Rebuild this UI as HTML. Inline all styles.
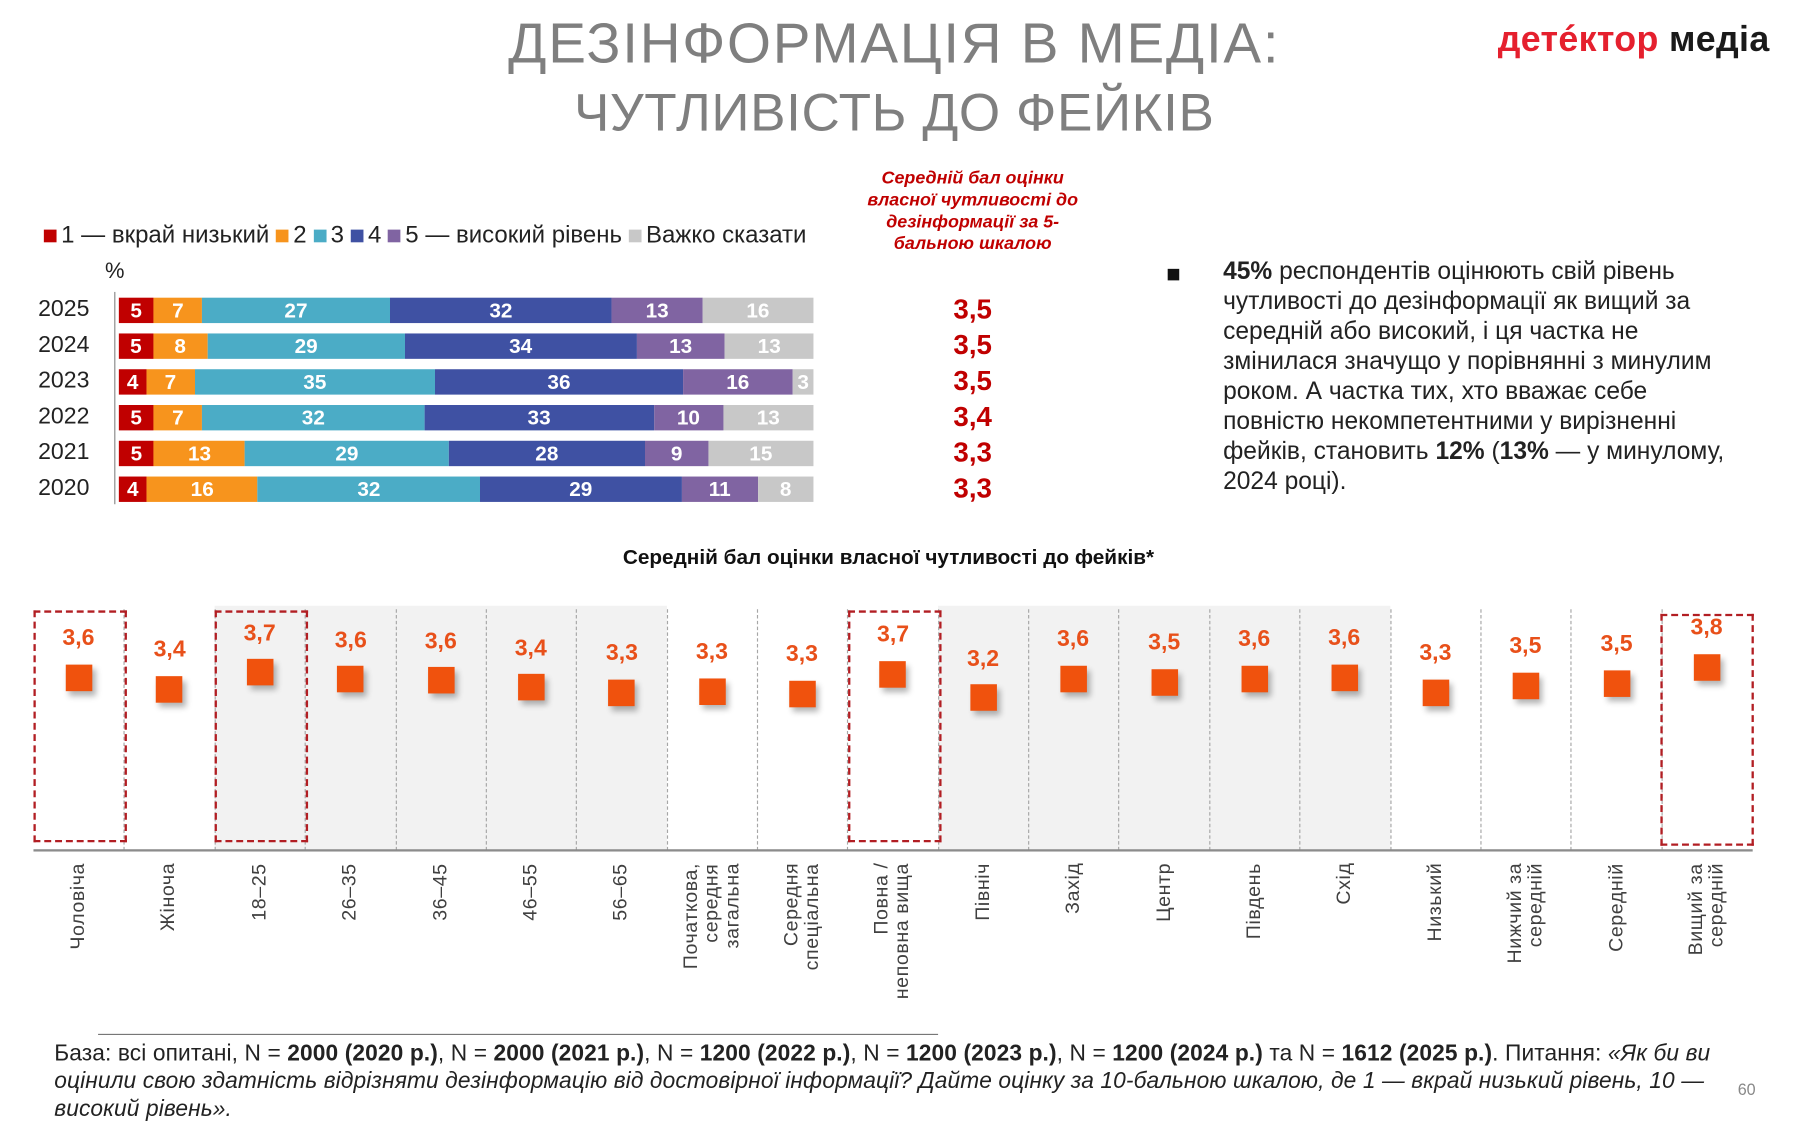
<!DOCTYPE html>
<html><head><meta charset="utf-8">
<style>
html,body{margin:0;padding:0;background:#fff;}
body{width:1800px;height:1125px;overflow:hidden;position:relative;font-family:"Liberation Sans","DejaVu Sans",sans-serif;}
#w{position:absolute;left:0;top:0;width:1560px;height:975px;transform:scale(1.153846);transform-origin:0 0;}
.a{position:absolute;white-space:nowrap;}
.t{color:#7f7f7f;font-size:49px;font-weight:300;left:0;width:1550px;text-align:center;letter-spacing:1.5px;}
.row{position:absolute;left:103px;width:602px;height:22px;display:flex;}
.row div{color:#fff;font-weight:bold;font-size:18px;text-align:center;line-height:22px;overflow:visible;}
.yr{position:absolute;left:33px;font-size:20px;color:#222;}
.sc{position:absolute;left:800px;width:86px;text-align:center;color:#c00000;font-weight:bold;font-size:24px;}
.lg{display:inline-block;width:11px;height:11px;margin-right:4px;vertical-align:0px;}
.col{position:absolute;top:525px;height:212px;width:78.4px;}
.sep{position:absolute;top:528px;height:209px;border-left:1px dashed #a6a6a6;}
.box{position:absolute;border:2px dashed #b21e23;}
.mk{position:absolute;width:23px;height:23px;background:#f0520d;box-shadow:3px 4px 5px rgba(0,0,0,0.3);}
.vl{position:absolute;color:#e8501a;font-weight:bold;font-size:20px;width:60px;text-align:center;}
.cl{position:absolute;top:748px;height:140px;writing-mode:vertical-rl;transform:rotate(180deg);text-align:end;font-size:17px;color:#404040;line-height:18px;letter-spacing:0.5px;}
.p{font-size:21.3px;color:#222;left:1060px;}
.f{font-size:19.7px;color:#222;left:47px;letter-spacing:0.1px;}
</style></head><body><div id="w">
<div class="a t" style="top:10px;">ДЕЗІНФОРМАЦІЯ В МЕДІА:</div>
<div class="a t" style="top:70px;font-size:46px;letter-spacing:0.5px;">ЧУТЛИВІСТЬ ДО ФЕЙКІВ</div>
<div class="a" style="left:1298px;top:16px;font-size:31px;font-weight:bold;letter-spacing:0.3px;"><span style="color:#e5202e">детéктор</span> <span style="color:#1a1a1a">медіа</span></div>

<div class="a" style="left:740px;width:206px;top:145px;text-align:center;color:#c00000;font-style:italic;font-weight:bold;font-size:15.5px;line-height:19px;">Середній бал оцінки<br>власної чутливості до<br>дезінформації за 5-<br>бальною шкалою</div>

<div class="a" style="left:38px;top:192px;font-size:20.8px;color:#222;"><span class="lg" style="background:#c00000"></span>1 — вкрай низький <span class="lg" style="background:#f7941d"></span>2 <span class="lg" style="background:#4bacc6"></span>3 <span class="lg" style="background:#3f51a3"></span>4 <span class="lg" style="background:#8064a2"></span>5 — високий рівень <span class="lg" style="background:#c8c8c8"></span>Важко сказати</div>
<div class="a" style="left:91px;top:225px;font-size:19px;color:#222;">%</div>
<div class="a" style="left:99px;top:253px;height:184px;border-left:1px solid #888;"></div>

<div class="yr" style="top:257px">2025</div>
<div class="row" style="top:258px"><div style="flex:5;background:#c00000">5</div><div style="flex:7;background:#f7941d">7</div><div style="flex:27;background:#4bacc6">27</div><div style="flex:32;background:#3f51a3">32</div><div style="flex:13;background:#8064a2">13</div><div style="flex:16;background:#c8c8c8">16</div></div>
<div class="yr" style="top:288px">2024</div>
<div class="row" style="top:289px"><div style="flex:5;background:#c00000">5</div><div style="flex:8;background:#f7941d">8</div><div style="flex:29;background:#4bacc6">29</div><div style="flex:34;background:#3f51a3">34</div><div style="flex:13;background:#8064a2">13</div><div style="flex:13;background:#c8c8c8">13</div></div>
<div class="yr" style="top:319px">2023</div>
<div class="row" style="top:320px"><div style="flex:4;background:#c00000">4</div><div style="flex:7;background:#f7941d">7</div><div style="flex:35;background:#4bacc6">35</div><div style="flex:36;background:#3f51a3">36</div><div style="flex:16;background:#8064a2">16</div><div style="flex:3;background:#c8c8c8">3</div></div>
<div class="yr" style="top:350px">2022</div>
<div class="row" style="top:351px"><div style="flex:5;background:#c00000">5</div><div style="flex:7;background:#f7941d">7</div><div style="flex:32;background:#4bacc6">32</div><div style="flex:33;background:#3f51a3">33</div><div style="flex:10;background:#8064a2">10</div><div style="flex:13;background:#c8c8c8">13</div></div>
<div class="yr" style="top:381px">2021</div>
<div class="row" style="top:382px"><div style="flex:5;background:#c00000">5</div><div style="flex:13;background:#f7941d">13</div><div style="flex:29;background:#4bacc6">29</div><div style="flex:28;background:#3f51a3">28</div><div style="flex:9;background:#8064a2">9</div><div style="flex:15;background:#c8c8c8">15</div></div>
<div class="yr" style="top:412px">2020</div>
<div class="row" style="top:413px"><div style="flex:4;background:#c00000">4</div><div style="flex:16;background:#f7941d">16</div><div style="flex:32;background:#4bacc6">32</div><div style="flex:29;background:#3f51a3">29</div><div style="flex:11;background:#8064a2">11</div><div style="flex:8;background:#c8c8c8">8</div></div>

<div class="sc" style="top:255px">3,5</div>
<div class="sc" style="top:286px">3,5</div>
<div class="sc" style="top:317px">3,5</div>
<div class="sc" style="top:348px">3,4</div>
<div class="sc" style="top:379px">3,3</div>
<div class="sc" style="top:410px">3,3</div>

<div class="a" style="left:1012px;top:233px;width:10px;height:10px;background:#111;"></div>
<div class="a p" style="top:223px"><b>45%</b> респондентів оцінюють свій рівень</div>
<div class="a p" style="top:249px">чутливості до дезінформації як вищий за</div>
<div class="a p" style="top:275px">середній або високий, і ця частка не</div>
<div class="a p" style="top:301px">змінилася значущо у порівнянні з минулим</div>
<div class="a p" style="top:327px">роком. А частка тих, хто вважає себе</div>
<div class="a p" style="top:353px">повністю некомпетентними у вирізненні</div>
<div class="a p" style="top:379px">фейків, становить <b>12%</b> (<b>13%</b> — у минулому,</div>
<div class="a p" style="top:405px">2024 році).</div>

<div class="a" style="left:0;width:1540px;text-align:center;top:473px;font-size:18px;font-weight:bold;color:#111;">Середній бал оцінки власної чутливості до фейків*</div>

<div class="col" style="left:186px;width:392px;background:#f2f2f2"></div>
<div class="col" style="left:813px;width:392px;background:#f2f2f2"></div>
<div class="sep" style="left:107px"></div><div class="sep" style="left:186px"></div><div class="sep" style="left:264px"></div><div class="sep" style="left:343px"></div><div class="sep" style="left:421px"></div><div class="sep" style="left:499px"></div><div class="sep" style="left:578px"></div><div class="sep" style="left:656px"></div><div class="sep" style="left:734px"></div><div class="sep" style="left:813px"></div><div class="sep" style="left:891px"></div><div class="sep" style="left:969px"></div><div class="sep" style="left:1048px"></div><div class="sep" style="left:1126px"></div><div class="sep" style="left:1205px"></div><div class="sep" style="left:1283px"></div><div class="sep" style="left:1361px"></div><div class="sep" style="left:1440px"></div>
<div class="a" style="left:29px;top:736px;width:1490px;height:2px;background:#8c8c8c;"></div>
<div class="box" style="left:29px;top:529px;width:77px;height:197px"></div>
<div class="box" style="left:186px;top:529px;width:77px;height:197px"></div>
<div class="box" style="left:735px;top:529px;width:77px;height:197px"></div>
<div class="box" style="left:1439px;top:532px;width:77px;height:197px"></div>

<div class="mk" style="left:57px;top:576px"></div><div class="vl" style="left:38px;top:542px">3,6</div>
<div class="mk" style="left:135px;top:586px"></div><div class="vl" style="left:117px;top:552px">3,4</div>
<div class="mk" style="left:214px;top:571px"></div><div class="vl" style="left:195px;top:538px">3,7</div>
<div class="mk" style="left:292px;top:577px"></div><div class="vl" style="left:274px;top:544px">3,6</div>
<div class="mk" style="left:371px;top:578px"></div><div class="vl" style="left:352px;top:545px">3,6</div>
<div class="mk" style="left:449px;top:584px"></div><div class="vl" style="left:430px;top:551px">3,4</div>
<div class="mk" style="left:527px;top:589px"></div><div class="vl" style="left:509px;top:555px">3,3</div>
<div class="mk" style="left:606px;top:588px"></div><div class="vl" style="left:587px;top:554px">3,3</div>
<div class="mk" style="left:684px;top:590px"></div><div class="vl" style="left:665px;top:556px">3,3</div>
<div class="mk" style="left:762px;top:573px"></div><div class="vl" style="left:744px;top:539px">3,7</div>
<div class="mk" style="left:841px;top:593px"></div><div class="vl" style="left:822px;top:560px">3,2</div>
<div class="mk" style="left:919px;top:577px"></div><div class="vl" style="left:900px;top:543px">3,6</div>
<div class="mk" style="left:998px;top:580px"></div><div class="vl" style="left:979px;top:546px">3,5</div>
<div class="mk" style="left:1076px;top:577px"></div><div class="vl" style="left:1057px;top:543px">3,6</div>
<div class="mk" style="left:1154px;top:576px"></div><div class="vl" style="left:1135px;top:542px">3,6</div>
<div class="mk" style="left:1233px;top:589px"></div><div class="vl" style="left:1214px;top:555px">3,3</div>
<div class="mk" style="left:1311px;top:583px"></div><div class="vl" style="left:1292px;top:549px">3,5</div>
<div class="mk" style="left:1390px;top:581px"></div><div class="vl" style="left:1371px;top:547px">3,5</div>
<div class="mk" style="left:1468px;top:567px"></div><div class="vl" style="left:1449px;top:533px">3,8</div>

<div class="cl" style="left:59px">Чоловіча</div>
<div class="cl" style="left:137px">Жіноча</div>
<div class="cl" style="left:216px">18–25</div>
<div class="cl" style="left:294px">26–35</div>
<div class="cl" style="left:373px">36–45</div>
<div class="cl" style="left:451px">46–55</div>
<div class="cl" style="left:529px">56–65</div>
<div class="cl" style="left:590px">Початкова,<br>середня<br>загальна</div>
<div class="cl" style="left:677px">Середня<br>спеціальна</div>
<div class="cl" style="left:755px">Повна /<br>неповна вища</div>
<div class="cl" style="left:843px">Північ</div>
<div class="cl" style="left:921px">Захід</div>
<div class="cl" style="left:1000px">Центр</div>
<div class="cl" style="left:1078px">Південь</div>
<div class="cl" style="left:1156px">Схід</div>
<div class="cl" style="left:1235px">Низький</div>
<div class="cl" style="left:1304px">Нижчий за<br>середній</div>
<div class="cl" style="left:1392px">Середній</div>
<div class="cl" style="left:1461px">Вищий за<br>середній</div>

<div class="a" style="left:85px;top:896px;width:728px;height:1px;background:#777;"></div>
<div class="a f" style="top:902px;">База: всі опитані, N = <b>2000 (2020 р.)</b>, N = <b>2000 (2021 р.)</b>, N = <b>1200 (2022 р.)</b>, N = <b>1200 (2023 р.)</b>, N = <b>1200 (2024 р.)</b> та N = <b>1612 (2025 р.)</b>. Питання: <i>«Як би ви</i></div>
<div class="a f" style="top:926px;font-style:italic;">оцінили свою здатність відрізняти дезінформацію від достовірної інформації? Дайте оцінку за 10-бальною шкалою, де 1 — вкрай низький рівень, 10 —</div>
<div class="a f" style="top:950px;font-style:italic;">високий рівень».</div>
<div class="a" style="left:1506px;top:936px;font-size:14px;color:#888;">60</div>
</div></body></html>
